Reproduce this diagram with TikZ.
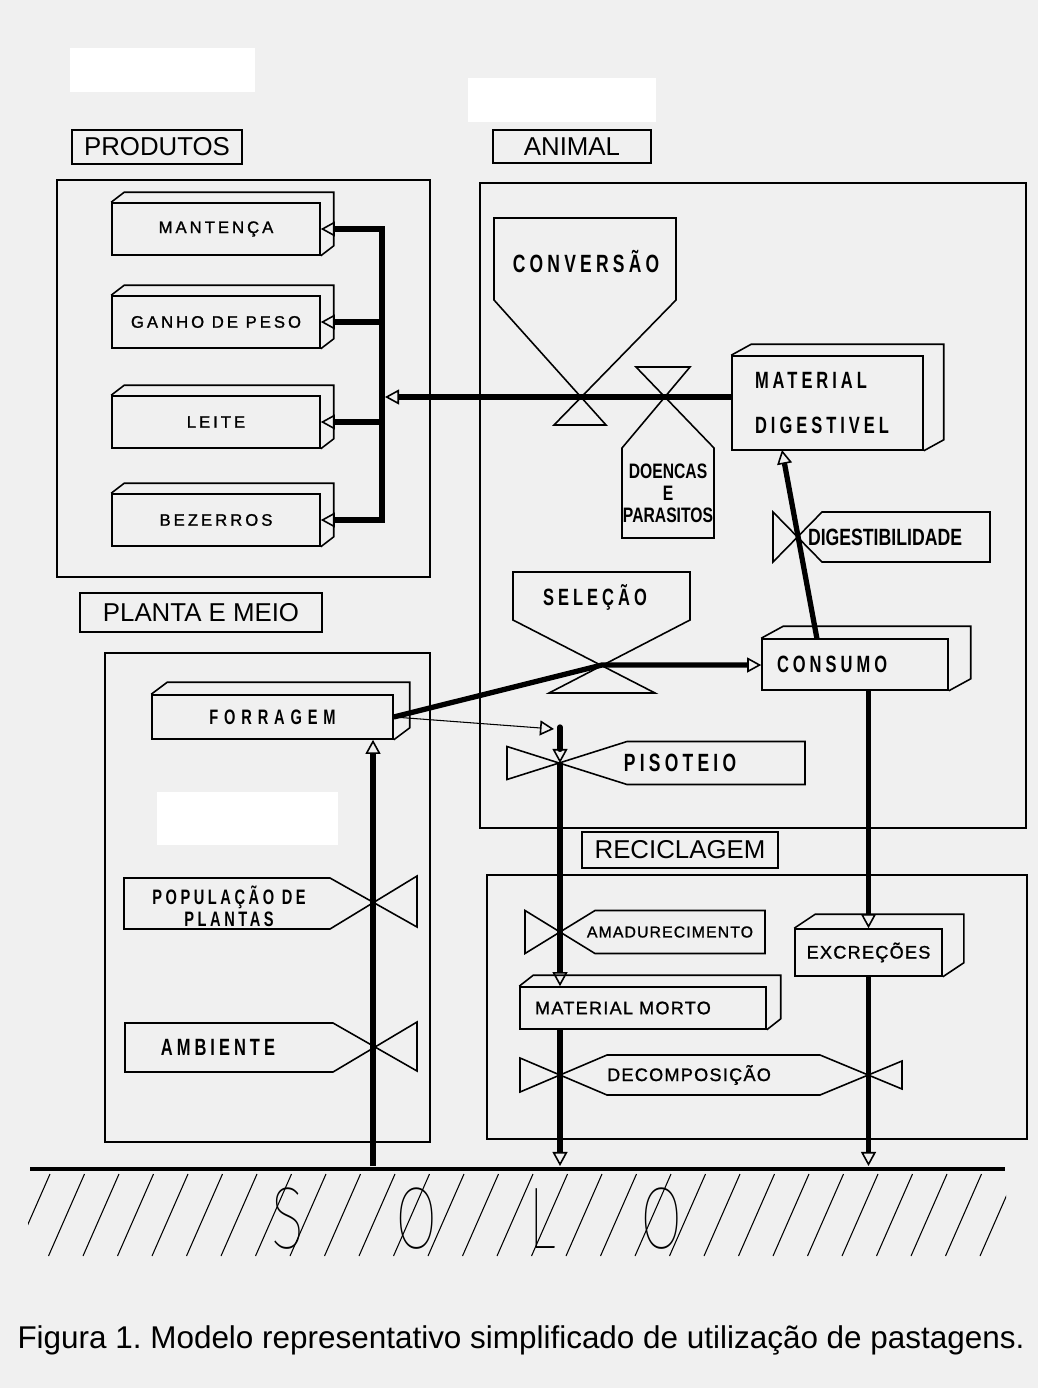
\documentclass[tikz,border=0pt]{standalone}
\usepackage{fontspec}
\setmainfont{Liberation Sans}
\newfontfamily\prodfont{Liberation Sans}[LetterSpace=18,FakeBold=1.2]
\newfontfamily\heavyfont{Liberation Sans}[FakeStretch=0.7,LetterSpace=17]
\newfontfamily\tightfont{Liberation Sans}[FakeStretch=0.75]
\newfontfamily\recfont{Liberation Sans}[LetterSpace=7,FakeBold=1.2]
\IfFontExistsTF{Fira Sans Thin}%
  {\newfontfamily\solofont{Fira Sans Thin}[FakeStretch=0.7]}%
  {\newfontfamily\solofont{Liberation Sans}[FakeStretch=0.6]}
\usetikzlibrary{arrows.meta,calc}

\definecolor{paper}{RGB}{240,240,240}

% back edges of a 3D box: node name, dx, dy (px, up)
\newcommand{\boxback}[3]{%
  \draw[outline] (#1.north west) -- ++(#2,-#3) -| ($(#1.south east)+(#2,-#3)$) -- (#1.south east);}

\tikzset{
  tri/.tip={Triangle[open,length=8pt,width=8.5pt,line width=0.9pt]},
  frame/.style={line width=1.4pt},
  tagbox/.style={draw,line width=0.7pt,inner sep=0pt,font=\fontsize{14.7}{17}\selectfont},
  outline/.style={line width=0.9pt},
  stock/.style={draw,line width=0.9pt,inner sep=0pt},
  flow/.style={line width=3pt},
  infoline/.style={line width=0.6pt},
  prodtext/.style={font=\prodfont\fontsize{9.5}{11}\selectfont},
  heavy/.style={font=\heavyfont\bfseries\fontsize{#1}{#1}\selectfont},
  heavy/.default=13.4,
  tight/.style={font=\tightfont\bfseries\fontsize{#1}{12.5}\selectfont},
  rec/.style={font=\recfont\fontsize{#1}{12}\selectfont},
  rec/.default=10.3,
}

\begin{document}
\frenchspacing
\begin{tikzpicture}[x=0.02cm,y=-0.02cm]
    \useasboundingbox (0,0) rectangle (1038,1388);
    % --- paper ---
    \fill[paper] (0,0) rectangle (1038,1388);
    \fill[white] (70,48) rectangle (255,92);
    \fill[white] (468,78) rectangle (656,122);
    \fill[white] (157,792) rectangle (338,845);

    % --- PRODUTOS ---
    \node[tagbox,minimum width=3.4cm,minimum height=0.68cm] (tagprod) at (157,147) {PRODUTOS};
    \draw[frame] (57,180) rectangle (430,577);
    \node[stock,prodtext,minimum width=4.16cm,minimum height=1.04cm] (mant) at (216,229) {MANTENÇA};
    \node[stock,prodtext,minimum width=4.16cm,minimum height=1.04cm] (ganho) at (216,322) {GANHO DE PESO};
    \node[stock,prodtext,minimum width=4.16cm,minimum height=1.04cm] (leite) at (216,422) {LEITE};
    \node[stock,prodtext,minimum width=4.16cm,minimum height=1.04cm] (bez) at (216,520) {BEZERROS};
    \boxback{mant}{13}{10}
    \boxback{ganho}{13}{10}
    \boxback{leite}{13}{10}
    \boxback{bez}{13}{10}
    \coordinate (bustop) at (382,229);
    \coordinate (busin) at (385,397);

    % --- ANIMAL ---
    \node[tagbox,minimum width=3.16cm,minimum height=0.66cm] (taganim) at (572,146.5) {ANIMAL};
    \draw[frame] (480,183) rectangle (1026,828);
    % conversao
    \draw[outline] (494,218) -- (676,218) -- (676,300) -- (554,425) -- (606,425) -- (494,300) -- cycle;
    \node[heavy=14.2] (conv) at (586,262) {CONVERSÃO};
    % doencas e parasitos
    \draw[outline] (636,367) -- (690,367) -- (622,448) -- (622,538) -- (714,538) -- (714,448) -- cycle;
    \node[tight=11.9,align=center,inner sep=0pt] (doen) at (668,493) {DOENCAS\\E\\PARASITOS};
    % material digestivel
    \node[stock,font=\heavyfont\bfseries\fontsize{13.4}{25.5}\selectfont,minimum width=3.82cm,minimum height=1.88cm,
          inner xsep=0.46cm,text width=2.9cm,align=left] (md) at (827.5,403) {MATERIAL\\DIGESTIVEL};
    \boxback{md}{20}{11}
    % consumo
    \node[stock,heavy,minimum width=3.72cm,minimum height=1.02cm,
          inner xsep=0.3cm,text width=3.12cm,align=left] (cons) at (855,664.5) {CONSUMO};
    \boxback{cons}{22}{12}
    \coordinate (consout) at (817,639);
    \coordinate (mdin) at (782,450);
    % digestibilidade
    \draw[outline] (773,512) -- (822,562) -- (990,562) -- (990,512) -- (822,512) -- (773,562) -- cycle;
    \node[tight=13.4] (dig) at (885,537) {DIGESTIBILIDADE};
    % selecao
    \draw[outline] (513,572) -- (690,572) -- (690,620) -- (549,693) -- (655,693) -- (513,620) -- cycle;
    \node[heavy] (sel) at (595,597) {SELEÇÃO};
    \coordinate (selv) at (602,665);
    % pisoteio
    \draw[outline] (507,746.5) -- (627,784.5) -- (805,784.5) -- (805,741.5) -- (627,741.5) -- (507,779.5) -- cycle;
    \node[heavy=14.2] (pis) at (680,763) {PISOTEIO};
    \coordinate (pisv) at (560,763);
    \coordinate (pistop) at (560,727);
    \coordinate (pisin) at (554,729);

    % --- PLANTA E MEIO ---
    \node[tagbox,minimum width=4.84cm,minimum height=0.78cm] (tagplan) at (201,612.5) {PLANTA E MEIO};
    \draw[frame] (105,653) rectangle (430,1142);
    \node[stock,font=\heavyfont\bfseries\addfontfeatures{LetterSpace=28}\fontsize{11.9}{14}\selectfont,
          minimum width=4.82cm,minimum height=0.88cm] (forr) at (272.5,717) {FORRAGEM};
    \boxback{forr}{16}{12}
    % populacao de plantas
    \draw[outline] (124,878) -- (330,878) -- (417,927) -- (417,876) -- (330,929) -- (124,929) -- cycle;
    \node[font=\heavyfont\bfseries\fontsize{11.9}{12.5}\selectfont,align=center,inner sep=0pt] (pop) at (229,906) {POPULAÇÃO DE\\PLANTAS};
    % ambiente
    \draw[outline] (125,1023) -- (333,1023) -- (417,1071) -- (417,1022) -- (333,1072) -- (125,1072) -- cycle;
    \node[heavy] (amb) at (218,1047) {AMBIENTE};
    \coordinate (forrin) at (373,1166);

    % --- RECICLAGEM ---
    \node[tagbox,minimum width=3.92cm,minimum height=0.72cm] (tagrec) at (680,850) {RECICLAGEM};
    \draw[frame] (487,875) rectangle (1027,1139);
    % amadurecimento
    \draw[outline] (525,910.5) -- (595,953.5) -- (765,953.5) -- (765,910.5) -- (595,910.5) -- (525,953.5) -- cycle;
    \node[rec=9] (amad) at (670,932) {AMADURECIMENTO};
    % material morto
    \node[stock,rec,minimum width=4.92cm,minimum height=0.84cm,
          inner xsep=0.3cm,text width=4.32cm,align=left] (mm) at (643,1008) {MATERIAL MORTO};
    \boxback{mm}{14}{11}
    % excrecoes
    \node[stock,rec,minimum width=2.94cm,minimum height=0.94cm] (exc) at (868.5,952.5) {EXCREÇÕES};
    \boxback{exc}{21}{14}
    % decomposicao
    \draw[outline] (520,1058) -- (607,1095) -- (820,1095) -- (902,1061) -- (902,1089) -- (820,1055)
        -- (607,1055) -- (520,1092) -- cycle;
    \node[rec] (dec) at (689,1075) {DECOMPOSIÇÃO};

    % --- SOLO ---
    \coordinate (soilL) at (30,1169);
    \coordinate (soilR) at (1005,1169);
    \coordinate (soiltop) at (0,1166);
    \begin{scope}
        \clip (28,1173) rectangle (1006,1258);
        \foreach \hx in {14,48.5,...,1000}
            \draw[line width=0.6pt] (\hx,1256) -- ++(36,-82);
    \end{scope}
    \draw[line width=2.8pt] (soilL) -- (soilR);
    \foreach \ch/\xx in {S/288,O/417,L/543,O/662}
        \node[font=\solofont\fontsize{50}{50}\selectfont,inner sep=0pt] (solo\xx) at (\xx,1219) {\ch};

    % --- fluxos ---
    \draw[flow,tri-tri] (mant.east) -- (mant.east -| bustop) -- (bez.east -| bustop) -- (bez.east);
    \draw[flow,-tri] (ganho.east -| bustop) -- (ganho.east);
    \draw[flow,-tri] (leite.east -| bustop) -- (leite.east);
    \draw[flow,-tri] (md.west |- busin) -- (busin);
    \draw[flow,-tri] (consout) -- (mdin);
    \draw[flow,-tri] (forr.east) -- (selv) -- (cons.west |- selv);
    \draw[infoline,-tri] (forr.east) -- (pisin);
    \draw[flow,line cap=round,-tri] (pistop) -- (pisv);
    \draw[flow,-tri] (pisv) -- (mm.north -| pisv);
    \draw[flow,-tri] (mm.south -| pisv) -- (pisv |- soiltop);
    \draw[flow,-tri] (cons.south -| exc.north) -- (exc.north);
    \draw[flow,-tri] (exc.south) -- (exc.south |- soiltop);
    \draw[flow,-tri] (forrin) -- (forr.south -| forrin);

    % --- legenda ---
    \node[font=\fontsize{17.9}{20}\selectfont,inner sep=0pt] (legenda) at (521,1340)
        {Figura 1. Modelo representativo simplificado de utilização de pastagens.};
\end{tikzpicture}
\end{document}
